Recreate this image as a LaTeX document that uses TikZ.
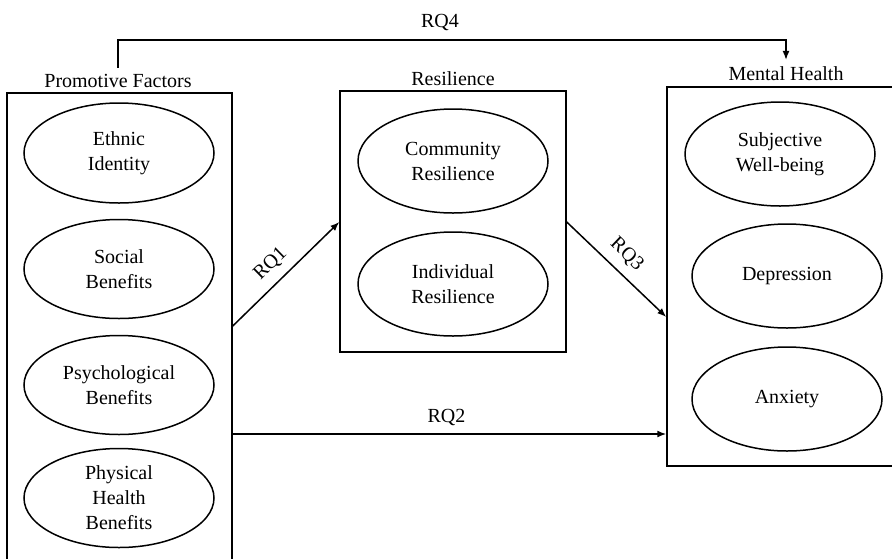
\documentclass[tikz,border=0pt]{standalone}
\usepackage{fontspec}
\setmainfont{Liberation Serif}
\usetikzlibrary{shapes.geometric}
\usetikzlibrary{arrows.meta}
\tikzstyle{cadre}=[draw,rectangle,line width=1.5pt,inner sep=0pt]
\tikzstyle{facteur}=[
        draw,
        ellipse,
        line width=1.5pt,
        minimum width=190pt,
        minimum height=104pt,
        inner sep=0pt,
        align=center,
        font=\fontsize{20}{25}\selectfont
]
\tikzstyle{titre}=[font=\fontsize{20}{24}\selectfont,anchor=base,inner sep=6pt]
\tikzstyle{etiq}=[font=\fontsize{20}{24}\selectfont,inner sep=3pt]
\tikzstyle{fleche}=[-{Latex[length=9pt,width=7pt]},line width=1.5pt]

\begin{document}
\begin{tikzpicture}[x=1pt,y=-1pt]
\useasboundingbox (0,0) rectangle (892,558);
%Boites
\node[cadre,minimum width=225pt,minimum height=477pt] (pf) at (119.5,331.5) {};
\node[cadre,minimum width=226pt,minimum height=261pt] (res) at (453,221.5) {};
\node[cadre,minimum width=229pt,minimum height=379pt] (mh) at (781.5,276.5) {};
\node[titre] (pft) at (118,87) {Promotive Factors};
\node[titre] (rest) at (453,85) {Resilience};
\node[titre] (mht) at (786,80) {Mental Health};
%Facteurs
\node[facteur,minimum height=100pt] (ei) at (119,153) {Ethnic\\Identity};
\node[facteur,minimum height=99pt] (sb) at (119,269) {Social\\Benefits};
\node[facteur,minimum height=99pt] (pb) at (119,385) {Psychological\\Benefits};
\node[facteur,minimum height=99pt] (phb) at (119,498) {Physical\\Health\\Benefits};
\node[facteur] (cr) at (453,161) {Community\\Resilience};
\node[facteur] (ir) at (453,284) {Individual\\Resilience};
\node[facteur] (swb) at (780,154) {Subjective\\Well-being};
\node[facteur] (dep) at (787,276) {Depression};
\node[facteur] (anx) at (787,399) {Anxiety};
%Fleches
\coordinate (coude) at (440,40);
\node[titre] (rq4) at (440,27) {RQ4};
\draw[fleche] (pft.north) |- (coude) -| (mht.north);
\draw[fleche] (pf.east |- 0,326) -- node[etiq,midway,sloped,above=6pt,xshift=-4pt] {RQ1} (res.west |- 0,222);
\draw[fleche] (res.east |- 0,222) -- node[etiq,midway,sloped,above=6pt,xshift=-3pt] {RQ3} (mh.west |- 0,317);
\draw[fleche] (pf.east |- 0,434) -- node[etiq,midway,above=5pt,xshift=-3pt] {RQ2} (mh.west |- 0,434);
\end{tikzpicture}
\end{document}
